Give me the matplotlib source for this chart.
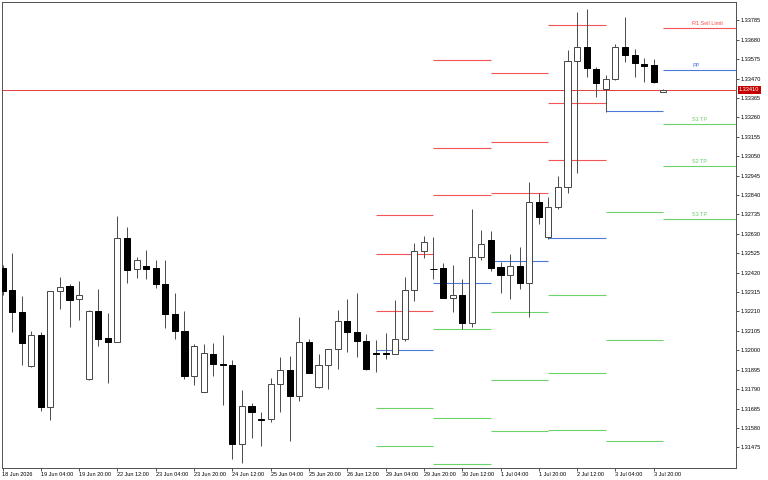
import matplotlib
matplotlib.use("Agg")
import matplotlib.pyplot as plt
import matplotlib.transforms as mtransforms
import numpy as np

# ---------------- data ----------------
opens = [1.32443, 1.32326, 1.32207, 1.31915, 1.32083, 1.31691, 1.32319, 1.32348, 1.32276, 1.31843,
         1.32214, 1.32066, 1.32046, 1.32609, 1.32438, 1.32457, 1.32443, 1.32358, 1.32196, 1.32106,
         1.31861, 1.31776, 1.31981, 1.31926, 1.31922, 1.31494, 1.31697, 1.31626, 1.31626, 1.31816,
         1.31895, 1.31754, 1.32043, 1.31800, 1.31920, 1.32005, 1.32157, 1.32097, 1.32050, 1.31983,
         1.31983, 1.31980, 1.32062, 1.32326, 1.32535, 1.32442, 1.32447, 1.32283, 1.32297, 1.32147,
         1.32503, 1.32598, 1.32449, 1.32407, 1.32454, 1.32362, 1.32804, 1.32611, 1.32773, 1.32885,
         1.33565, 1.33641, 1.33522, 1.33412, 1.33469, 1.33642, 1.33596, 1.33550, 1.33543, 1.33397]
highs = [1.32461, 1.32528, 1.32294, 1.32106, 1.32097, 1.32322, 1.32398, 1.32357, 1.32375, 1.32216,
         1.32330, 1.32200, 1.32726, 1.32668, 1.32506, 1.32542, 1.32488, 1.32488, 1.32308, 1.32214,
         1.32034, 1.32034, 1.32041, 1.32084, 1.31946, 1.31783, 1.31715, 1.31666, 1.31848, 1.31962,
         1.31969, 1.32181, 1.32059, 1.31978, 1.32008, 1.32216, 1.32279, 1.32311, 1.32088, 1.32055,
         1.32092, 1.32272, 1.32395, 1.32582, 1.32618, 1.32611, 1.32470, 1.32463, 1.32387, 1.32763,
         1.32651, 1.32647, 1.32477, 1.32521, 1.32560, 1.32912, 1.32851, 1.32827, 1.32943, 1.33624,
         1.33828, 1.33845, 1.33534, 1.33487, 1.33657, 1.33804, 1.33631, 1.33579, 1.33576, 1.33412]
lows = [1.32299, 1.32100, 1.31919, 1.31912, 1.31673, 1.31621, 1.32222, 1.32127, 1.32164, 1.31841,
        1.32025, 1.31824, 1.32044, 1.32365, 1.32393, 1.32384, 1.32335, 1.32119, 1.32059, 1.31843,
        1.31812, 1.31774, 1.31862, 1.31705, 1.31410, 1.31392, 1.31527, 1.31484, 1.31613, 1.31666,
        1.31507, 1.31724, 1.31877, 1.31798, 1.31792, 1.31900, 1.31992, 1.31965, 1.31893, 1.31884,
        1.31951, 1.31978, 1.32052, 1.32268, 1.32497, 1.32387, 1.32281, 1.32205, 1.32113, 1.32127,
        1.32488, 1.32430, 1.32308, 1.32276, 1.32333, 1.32181, 1.32681, 1.32600, 1.32763, 1.32852,
        1.32961, 1.33480, 1.33372, 1.33287, 1.33462, 1.33561, 1.33480, 1.33453, 1.33446, 1.33395]
closes = [1.32322, 1.32207, 1.32038, 1.32083, 1.31691, 1.32319, 1.32342, 1.32273, 1.32297, 1.32214,
          1.32062, 1.32046, 1.32606, 1.32434, 1.32488, 1.32438, 1.32358, 1.32196, 1.32106, 1.31861,
          1.32023, 1.31984, 1.31924, 1.31919, 1.31494, 1.31697, 1.31666, 1.31621, 1.31816, 1.31895,
          1.31754, 1.32043, 1.31879, 1.31920, 1.32005, 1.32157, 1.32097, 1.32050, 1.31899, 1.31981,
          1.31980, 1.32059, 1.32326, 1.32535, 1.32586, 1.32440, 1.32283, 1.32297, 1.32147, 1.32503,
          1.32573, 1.32445, 1.32407, 1.32456, 1.32362, 1.32804, 1.32719, 1.32773, 1.32885, 1.33565,
          1.33641, 1.33525, 1.33446, 1.33469, 1.33641, 1.33596, 1.33552, 1.33539, 1.33450, 1.33410]

time_labels = ["18 Jun 2026", "19 Jun 04:00", "19 Jun 20:00", "22 Jun 12:00", "23 Jun 04:00",
               "23 Jun 20:00", "24 Jun 12:00", "25 Jun 04:00", "25 Jun 20:00", "26 Jun 12:00",
               "29 Jun 04:00", "29 Jun 20:00", "30 Jun 12:00", "1 Jul 04:00", "1 Jul 20:00",
               "2 Jul 12:00", "3 Jul 04:00", "3 Jul 20:00"]
bars_per_label = 4

price_ticks = [1.33785 - 0.00105 * k for k in range(23)]
current_price = 1.33410

# daily pivot levels: day start bar index (day ends at next start)
day_start = [39, 45, 51, 57, 63, 69]
r3 = [1.32732, 1.33570, 1.33500, 1.33760, None, None]
r2 = [1.32521, 1.33094, 1.33128, 1.33336, None, None]
r1 = [1.32211, 1.32838, 1.32852, 1.33028, None, 1.33742]
pp = [1.32001, 1.32362, 1.32481, 1.32606, 1.33293, 1.33515]
s1 = [1.31689, 1.32113, 1.32205, 1.32297, 1.32748, 1.33222]
s2 = [1.31482, 1.31635, 1.31837, 1.31875, 1.32055, 1.32997]
s3 = [None, 1.31383, 1.31563, 1.31569, 1.31509, 1.32708]

level_labels = {"r1": "R1 Sell Limit", "pp": "PP", "s1": "S1 TP", "s2": "S2 TP", "s3": "S3 TP"}

# ---------------- style ----------------
RED = "#f25555"
BLUE = "#4a78d8"
GREEN = "#6ad46a"
PRICE_RED = "#e04444"
FRAME = "#555555"
WICK = "#505050"
FONT = "Liberation Sans"
FS = 4.0
PX = 0.72  # 1 pixel in points at dpi 100

W, H = 768, 480
fig = plt.figure(figsize=(W / 100, H / 100), dpi=100)
left_px, right_px, top_px, bot_px = 1.5, 736.0, 2.0, 467.5
ax = fig.add_axes([left_px / W, (H - bot_px) / H, (right_px - left_px) / W, (bot_px - top_px) / H])

bar_px = 9.577
x0_px = 2.5
ax.set_xlim((left_px - x0_px) / bar_px, (right_px - x0_px) / bar_px)
ax.set_ylim(1.31366, 1.33884)

n = len(opens)
xs = np.arange(n)
o = np.array(opens); c = np.array(closes); hi = np.array(highs); lo = np.array(lows)

# wicks
ax.vlines(xs, lo, hi, colors=WICK, linewidth=PX, zorder=3)
# bodies
body_w = 0.64
bull = c >= o
bottoms = np.minimum(o, c)
heights = np.abs(c - o)
ax.bar(xs[bull], heights[bull], bottom=bottoms[bull], width=body_w, color="white",
       edgecolor="#4a4a4a", linewidth=PX, zorder=4)
ax.bar(xs[~bull], heights[~bull], bottom=bottoms[~bull], width=body_w, color="black",
       edgecolor="black", linewidth=PX, zorder=4)

# pivot segments
xmax = ax.get_xlim()[1]
levels = [(r3, RED), (r2, RED), (r1, RED), (pp, BLUE), (s1, GREEN), (s2, GREEN), (s3, GREEN)]
for i, start in enumerate(day_start):
    end = day_start[i + 1] if i + 1 < len(day_start) else xmax
    for arr, col in levels:
        v = arr[i]
        if v is not None:
            ax.hlines(v, start, end, colors=col, linewidth=PX * 1.1, zorder=2)

# labels for the current day
label_x = 72.0
cur = len(day_start) - 1
for key, arr, col in [("r1", r1, "#ff4a4a"), ("pp", pp, "#4a6ee0"), ("s1", s1, "#66cc66"),
                      ("s2", s2, "#66cc66"), ("s3", s3, "#66cc66")]:
    v = arr[cur]
    if v is not None:
        ax.annotate(level_labels[key], (label_x, v), xytext=(0, 3.2), textcoords="offset points",
                    color=col, fontsize=FS, family=FONT, va="center", ha="left", zorder=6)

# current price line
ax.axhline(current_price, color=PRICE_RED, linewidth=PX, zorder=1)
trans = mtransforms.blended_transform_factory(ax.transAxes, ax.transData)
ax.text(1.0 + 3.0 / (right_px - left_px), current_price, f"{current_price:.5f}", transform=trans,
        color="white", fontsize=FS, family=FONT, va="center", ha="left", zorder=7, clip_on=False,
        bbox=dict(boxstyle="square,pad=0.25", fc="#c40000", ec="none"))

# axes
ax.yaxis.tick_right()
ax.set_yticks(price_ticks)
ax.set_yticklabels([f"{p:.5f}" for p in price_ticks])
ax.set_xticks(np.arange(len(time_labels)) * bars_per_label)
ax.set_xticklabels(time_labels)
for lab in ax.get_xticklabels():
    lab.set_horizontalalignment("left")
    lab.set_family(FONT)
for lab in ax.get_yticklabels():
    lab.set_family(FONT)
ax.tick_params(axis="both", direction="out", length=2.2, width=PX, colors=FRAME,
               labelsize=FS, labelcolor="black")
ax.tick_params(axis="y", pad=1.0)
ax.tick_params(axis="x", pad=1.2)
for sp in ax.spines.values():
    sp.set_color(FRAME)
    sp.set_linewidth(PX)

fig.savefig("out.png", dpi=100, facecolor="white")
